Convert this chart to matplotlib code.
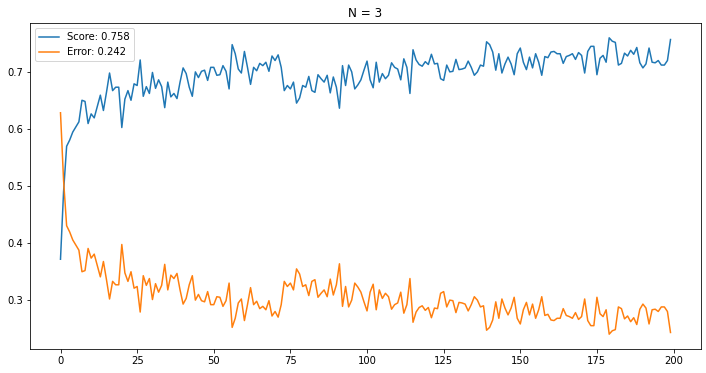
import numpy as np
import matplotlib
matplotlib.use("Agg")
import matplotlib.pyplot as plt

# score per step
score = [
    0.371, 0.490, 0.570, 0.581, 0.595, 0.604, 0.613, 0.651, 0.649, 0.610,
    0.627, 0.620, 0.640, 0.660, 0.633, 0.665, 0.699, 0.668, 0.674, 0.674,
    0.603, 0.653, 0.668, 0.651, 0.680, 0.677, 0.722, 0.658, 0.675, 0.663,
    0.700, 0.672, 0.687, 0.675, 0.638, 0.683, 0.657, 0.663, 0.654, 0.683,
    0.708, 0.698, 0.674, 0.658, 0.701, 0.691, 0.702, 0.704, 0.686, 0.709,
    0.709, 0.695, 0.696, 0.712, 0.702, 0.671, 0.749, 0.733, 0.706, 0.699,
    0.737, 0.709, 0.679, 0.709, 0.703, 0.716, 0.712, 0.718, 0.702, 0.729,
    0.721, 0.731, 0.709, 0.668, 0.677, 0.671, 0.683, 0.646, 0.655, 0.677,
    0.674, 0.693, 0.668, 0.665, 0.696, 0.689, 0.683, 0.695, 0.664, 0.692,
    0.674, 0.637, 0.712, 0.677, 0.713, 0.701, 0.671, 0.678, 0.687, 0.704,
    0.720, 0.687, 0.673, 0.718, 0.683, 0.698, 0.689, 0.695, 0.717, 0.709,
    0.706, 0.687, 0.724, 0.709, 0.663, 0.740, 0.722, 0.714, 0.711, 0.719,
    0.714, 0.732, 0.715, 0.716, 0.689, 0.686, 0.713, 0.701, 0.702, 0.723,
    0.705, 0.706, 0.708, 0.720, 0.709, 0.695, 0.701, 0.713, 0.711, 0.754,
    0.749, 0.736, 0.704, 0.733, 0.699, 0.715, 0.727, 0.715, 0.696, 0.733,
    0.743, 0.718, 0.705, 0.727, 0.708, 0.733, 0.718, 0.695, 0.728, 0.726,
    0.736, 0.737, 0.733, 0.733, 0.716, 0.728, 0.730, 0.733, 0.723, 0.735,
    0.730, 0.699, 0.737, 0.746, 0.746, 0.696, 0.725, 0.730, 0.718, 0.761,
    0.755, 0.753, 0.713, 0.716, 0.734, 0.729, 0.739, 0.732, 0.744, 0.717,
    0.708, 0.715, 0.743, 0.718, 0.717, 0.721, 0.713, 0.713, 0.721, 0.758,
]

# error per step
error = [
    0.629, 0.510, 0.430, 0.419, 0.405, 0.396, 0.387, 0.349, 0.351, 0.390,
    0.373, 0.380, 0.360, 0.340, 0.367, 0.335, 0.301, 0.332, 0.326, 0.326,
    0.397, 0.347, 0.332, 0.349, 0.320, 0.323, 0.278, 0.342, 0.325, 0.337,
    0.300, 0.328, 0.313, 0.325, 0.362, 0.317, 0.343, 0.337, 0.346, 0.317,
    0.292, 0.302, 0.326, 0.342, 0.299, 0.309, 0.298, 0.296, 0.314, 0.291,
    0.291, 0.305, 0.304, 0.288, 0.298, 0.329, 0.251, 0.267, 0.294, 0.301,
    0.263, 0.291, 0.321, 0.291, 0.297, 0.284, 0.288, 0.282, 0.298, 0.271,
    0.279, 0.269, 0.291, 0.332, 0.323, 0.329, 0.317, 0.354, 0.345, 0.323,
    0.326, 0.307, 0.332, 0.335, 0.304, 0.311, 0.317, 0.305, 0.336, 0.308,
    0.326, 0.363, 0.288, 0.323, 0.287, 0.299, 0.329, 0.322, 0.313, 0.296,
    0.280, 0.313, 0.327, 0.282, 0.317, 0.302, 0.311, 0.305, 0.283, 0.291,
    0.294, 0.313, 0.276, 0.291, 0.337, 0.260, 0.278, 0.286, 0.289, 0.281,
    0.286, 0.268, 0.285, 0.284, 0.311, 0.314, 0.287, 0.299, 0.298, 0.277,
    0.295, 0.294, 0.292, 0.280, 0.291, 0.305, 0.299, 0.287, 0.289, 0.246,
    0.251, 0.264, 0.296, 0.267, 0.301, 0.285, 0.273, 0.285, 0.304, 0.267,
    0.257, 0.282, 0.295, 0.273, 0.292, 0.267, 0.282, 0.305, 0.272, 0.274,
    0.264, 0.263, 0.267, 0.267, 0.284, 0.272, 0.270, 0.267, 0.277, 0.265,
    0.270, 0.301, 0.263, 0.254, 0.254, 0.304, 0.275, 0.270, 0.282, 0.239,
    0.245, 0.247, 0.287, 0.284, 0.266, 0.271, 0.261, 0.268, 0.256, 0.283,
    0.292, 0.285, 0.257, 0.282, 0.283, 0.279, 0.287, 0.287, 0.279, 0.242,
]

title = "N = 3"
score_label = "Score: 0.758"
error_label = "Error: 0.242"

W, H, dpi = 706, 373, 72
fig = plt.figure(figsize=(W / dpi, H / dpi), dpi=dpi)
ax = fig.add_axes([30 / W, (H - 349) / H, (701 - 30) / W, (349 - 23) / H])

steps = np.arange(len(score))
ax.plot(steps, score, label=score_label)
ax.plot(steps, error, label=error_label)
ax.set_title(title)
ax.legend(loc="upper left")

fig.savefig("out.png", dpi=dpi)
